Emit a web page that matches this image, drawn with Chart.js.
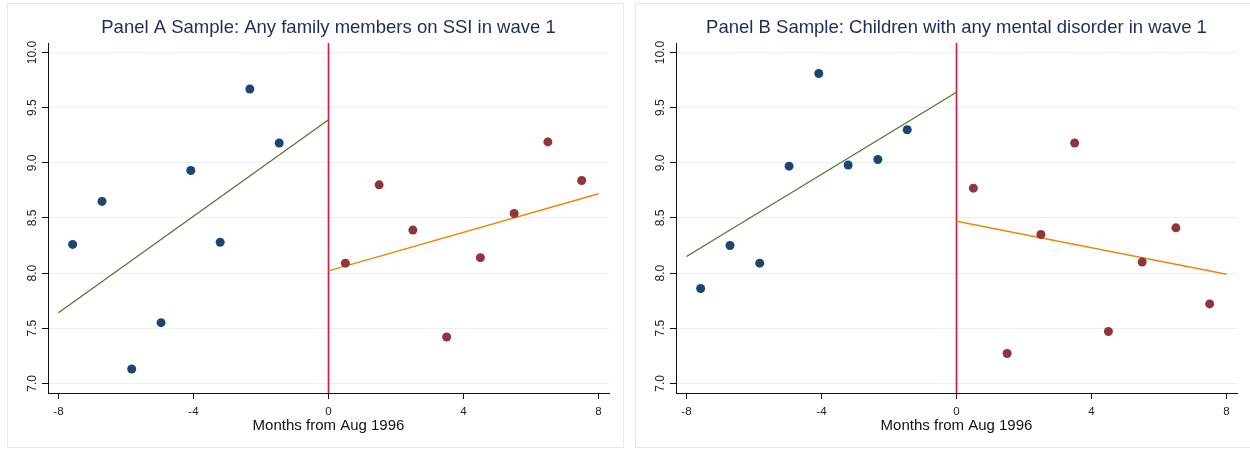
<!DOCTYPE html>
<html><head><meta charset="utf-8">
<script src="https://cdn.jsdelivr.net/npm/chart.js@4.4.0/dist/chart.umd.min.js"></script>
<style>
html,body{margin:0;padding:0;background:#fff;width:1250px;height:449px;overflow:hidden;}
.panel{position:absolute;top:3px;width:617px;height:445px;box-sizing:border-box;border:1px solid #e4eaef;background:#fff;}
#pa{left:7px}
#pb{left:635px}
canvas{display:block}
</style></head><body>
<div class="panel" id="pa"><canvas id="ca" width="615" height="443"></canvas></div>
<div class="panel" id="pb"><canvas id="cb" width="615" height="443"></canvas></div>
<script>
// ---- data ----
const xTicks = [-8, -4, 0, 4, 8];
const yTicks = [7.0, 7.5, 8.0, 8.5, 9.0, 9.5, 10.0];
const xBefore = [-7.58, -6.71, -5.83, -4.96, -4.08, -3.21, -2.33, -1.46];
const xAfter = [0.5, 1.5, 2.5, 3.5, 4.5, 5.5, 6.5, 7.5];

const titleA = "Panel A Sample: Any family members on SSI in wave 1";
const yBeforeA = [8.26, 8.65, 7.13, 7.55, 8.93, 8.28, 9.67, 9.18];
const yAfterA = [8.09, 8.80, 8.39, 7.42, 8.14, 8.54, 9.19, 8.84];
const fitBeforeXA = [-8, 0], fitBeforeYA = [7.64, 9.39];
const fitAfterXA = [0, 8], fitAfterYA = [8.02, 8.72];

const titleB = "Panel B Sample: Children with any mental disorder in wave 1";
const yBeforeB = [7.86, 8.25, 8.09, 8.97, 9.81, 8.98, 9.03, 9.30];
const yAfterB = [8.77, 7.27, 8.35, 9.18, 7.47, 8.10, 8.41, 7.72];
const fitBeforeXB = [-8, 0], fitBeforeYB = [8.15, 9.64];
const fitAfterXB = [0, 8], fitAfterYB = [8.47, 7.99];

const cutoffX = 0;
const xTitle = "Months from Aug 1996";
const xMin = -8.31, xMax = 8.31, yMin = 6.912, yMax = 10.087;

// ---- helpers ----
const FONT = '"Liberation Sans", Arial, sans-serif';
function pts(xs, ys){ return xs.map((x,i)=>({x:x, y:ys[i]})); }

const yLabelPlugin = {
  id: 'yLabels',
  afterDraw(chart){
    const s = chart.scales.y, ctx = chart.ctx;
    ctx.save();
    ctx.font = '12px ' + FONT;
    ctx.fillStyle = '#222';
    ctx.textAlign = 'center';
    ctx.textBaseline = 'middle';
    s.ticks.forEach(t => {
      const y = s.getPixelForValue(t.value);
      ctx.save();
      ctx.translate(24.5, y);
      ctx.rotate(-Math.PI/2);
      ctx.fillText(Number(t.value).toFixed(1), 0, 0);
      ctx.restore();
    });
    ctx.restore();
  }
};

function makeChart(id, title, yBefore, yAfter, fbx, fby, fax, fay){
  new Chart(document.getElementById(id), {
    type: 'scatter',
    data: {
      datasets: [
        {data: pts(xBefore, yBefore), backgroundColor:'#1a476f', borderWidth:0, pointRadius:4.5, pointHoverRadius:4.5},
        {data: pts(xAfter, yAfter), backgroundColor:'#90353b', borderWidth:0, pointRadius:4.5, pointHoverRadius:4.5},
        {data: pts(fbx, fby), showLine:true, borderColor:'#55752f', borderWidth:1.3, pointRadius:0},
        {data: pts(fax, fay), showLine:true, borderColor:'#e8890c', borderWidth:1.5, pointRadius:0},
        {data: pts([cutoffX, cutoffX], [yMin, yMax]), showLine:true, borderColor:'#d8163f', borderWidth:1.6, pointRadius:0}
      ]
    },
    options: {
      responsive: false,
      animation: false,
      events: [],
      layout: {padding: {top:0, left:0, right:14, bottom:0}},
      plugins: {
        legend: {display:false},
        tooltip: {enabled:false},
        title: {display:true, text:title, fullSize:false, color:'#1c2d5c',
                font:{family:FONT, size:18.5, weight:'normal', lineHeight:1.2},
                padding:{top:13, bottom:3.8}}
      },
      scales: {
        x: {
          type:'linear', min:xMin, max:xMax,
          afterBuildTicks: s => { s.ticks = xTicks.map(v=>({value:v})); },
          afterFit: s => { s.height = 54; },
          ticks: {color:'#222', font:{family:FONT, size:11.5}, padding:6, maxRotation:0, callback: v => String(v)},
          grid: {drawOnChartArea:false, drawTicks:true, tickLength:6, tickColor:'#111', tickWidth:1},
          border: {display:true, color:'#111', width:1},
          title: {display:true, text:xTitle, color:'#111', font:{family:FONT, size:15, lineHeight:1.2}, padding:{top:0, bottom:12.6}}
        },
        y: {
          type:'linear', min:yMin, max:yMax,
          afterBuildTicks: s => { s.ticks = yTicks.map(v=>({value:v})); },
          afterFit: s => { s.width = 40; },
          ticks: {display:false},
          grid: {color:'#e9f0f3', lineWidth:1, drawTicks:true, tickLength:6, tickColor:'#111', tickWidth:1},
          border: {display:true, color:'#111', width:1}
        }
      }
    },
    plugins: [yLabelPlugin]
  });
}

makeChart('ca', titleA, yBeforeA, yAfterA, fitBeforeXA, fitBeforeYA, fitAfterXA, fitAfterYA);
makeChart('cb', titleB, yBeforeB, yAfterB, fitBeforeXB, fitBeforeYB, fitAfterXB, fitAfterYB);
</script>
</body></html>
